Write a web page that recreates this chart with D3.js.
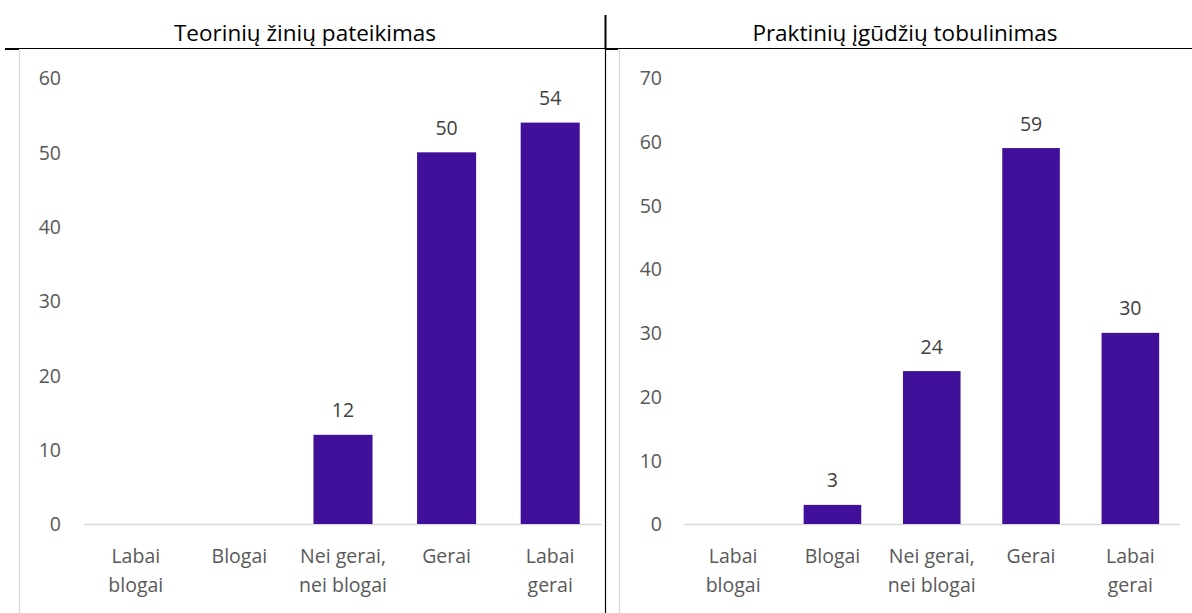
<!DOCTYPE html>
<html>
<head>
<meta charset="utf-8">
<script src="https://cdn.jsdelivr.net/npm/d3@7"></script>
<style>
  html, body { margin: 0; padding: 0; background: #fff; }
  svg { display: block; }
  text { font-family: "Open Sans", "Noto Sans", sans-serif; }
</style>
</head>
<body>
<svg id="chart" width="1192" height="613"></svg>
<script>
// Response categories (shared by both panels)
const categories = ["Labai blogai", "Blogai", "Nei gerai, nei blogai", "Gerai", "Labai gerai"];
const categoryLines = [["Labai", "blogai"], ["Blogai"], ["Nei gerai,", "nei blogai"], ["Gerai"], ["Labai", "gerai"]];

// Panel titles
const titleTheory = "Teorinių žinių pateikimas";
const titlePractice = "Praktinių įgūdžių tobulinimas";

// Counts per category (null = no bar / no label)
const theoryValues = [null, null, 12, 50, 54];
const practiceValues = [null, 3, 24, 59, 30];

// Y axis tick values
const theoryTicks = [0, 10, 20, 30, 40, 50, 60];
const practiceTicks = [0, 10, 20, 30, 40, 50, 60, 70];

const barColor = "#40109a";
const axisTextColor = "#595959";
const labelColor = "#404040";
const gridColor = "#d9d9d9";
const labelSize = 19.5;

const svg = d3.select("#chart");

// Table-like frame around the two panels
const frame = svg.append("g");
frame.append("line").attr("x1", 5).attr("x2", 1192).attr("y1", 48.5).attr("y2", 48.5)
  .attr("stroke", "#000").attr("stroke-width", 1.2);
frame.append("line").attr("x1", 5).attr("x2", 19).attr("y1", 49).attr("y2", 49)
  .attr("stroke", "#000").attr("stroke-width", 2);
frame.append("line").attr("x1", 605).attr("x2", 618).attr("y1", 49).attr("y2", 49)
  .attr("stroke", "#000").attr("stroke-width", 2);
frame.append("line").attr("x1", 605.5).attr("x2", 605.5).attr("y1", 15).attr("y2", 49)
  .attr("stroke", "#000").attr("stroke-width", 2);
frame.append("line").attr("x1", 605.5).attr("x2", 605.5).attr("y1", 49).attr("y2", 613)
  .attr("stroke", "#000").attr("stroke-width", 1.2);
// Light chart-area borders
frame.append("line").attr("x1", 19.5).attr("x2", 19.5).attr("y1", 50).attr("y2", 613)
  .attr("stroke", gridColor).attr("stroke-width", 1.3);
frame.append("line").attr("x1", 619.5).attr("x2", 619.5).attr("y1", 50).attr("y2", 613)
  .attr("stroke", gridColor).attr("stroke-width", 1.3);

function drawPanel(opts) {
  const g = svg.append("g");

  // Title
  g.append("text")
    .attr("x", opts.titleX).attr("y", 32)
    .attr("text-anchor", "middle").attr("dominant-baseline", "central")
    .attr("fill", "#000").attr("font-size", 22.5)
    .text(opts.title);

  const x = d3.scaleBand()
    .domain(categories)
    .range(opts.xRange)
    .paddingInner(opts.padInner)
    .paddingOuter(opts.padInner / 2);

  const y = d3.scaleLinear()
    .domain([0, opts.max])
    .range([524, 78]);

  // Y axis (labels only)
  const yAxis = d3.axisLeft(y).tickValues(opts.ticks).tickSize(0).tickPadding(0);
  const ya = g.append("g")
    .attr("transform", `translate(${opts.yLabelX},0)`)
    .call(yAxis);
  ya.select(".domain").remove();
  ya.selectAll("text")
    .attr("fill", axisTextColor).attr("font-size", labelSize)
    .attr("font-family", "'Open Sans', 'Noto Sans', sans-serif")
    .attr("dy", "0.35em");

  // Baseline
  g.append("line")
    .attr("x1", opts.xRange[0]).attr("x2", opts.xRange[1])
    .attr("y1", y(0) + 0.5).attr("y2", y(0) + 0.5)
    .attr("stroke", gridColor).attr("stroke-width", 1.5);

  const data = categories.map((c, i) => ({ c, v: opts.values[i], lines: categoryLines[i] }));

  // Bars
  g.selectAll("rect.bar")
    .data(data.filter(d => d.v != null))
    .join("rect")
    .attr("class", "bar")
    .attr("x", d => x(d.c))
    .attr("width", x.bandwidth())
    .attr("y", d => y(d.v))
    .attr("height", d => y(0) - y(d.v))
    .attr("fill", barColor);

  // Value labels
  g.selectAll("text.val")
    .data(data.filter(d => d.v != null))
    .join("text")
    .attr("class", "val")
    .attr("x", d => x(d.c) + x.bandwidth() / 2)
    .attr("y", d => y(d.v) - 25)
    .attr("text-anchor", "middle").attr("dominant-baseline", "central")
    .attr("fill", labelColor).attr("font-size", labelSize)
    .text(d => d.v);

  // Category labels
  const cl = g.selectAll("text.cat")
    .data(data)
    .join("text")
    .attr("class", "cat")
    .attr("text-anchor", "middle")
    .attr("fill", axisTextColor).attr("font-size", labelSize);
  cl.each(function (d) {
    const t = d3.select(this);
    d.lines.forEach((ln, k) => {
      t.append("tspan")
        .attr("x", x(d.c) + x.bandwidth() / 2)
        .attr("y", 555 + k * 29)
        .attr("dominant-baseline", "central")
        .text(ln);
    });
  });
}

drawPanel({
  title: titleTheory, titleX: 305,
  values: theoryValues, ticks: theoryTicks, max: 60,
  xRange: [84, 602], padInner: 0.43, yLabelX: 61
});

drawPanel({
  title: titlePractice, titleX: 905,
  values: practiceValues, ticks: practiceTicks, max: 70,
  xRange: [683.5, 1180], padInner: 0.42, yLabelX: 662
});
</script>
</body>
</html>
